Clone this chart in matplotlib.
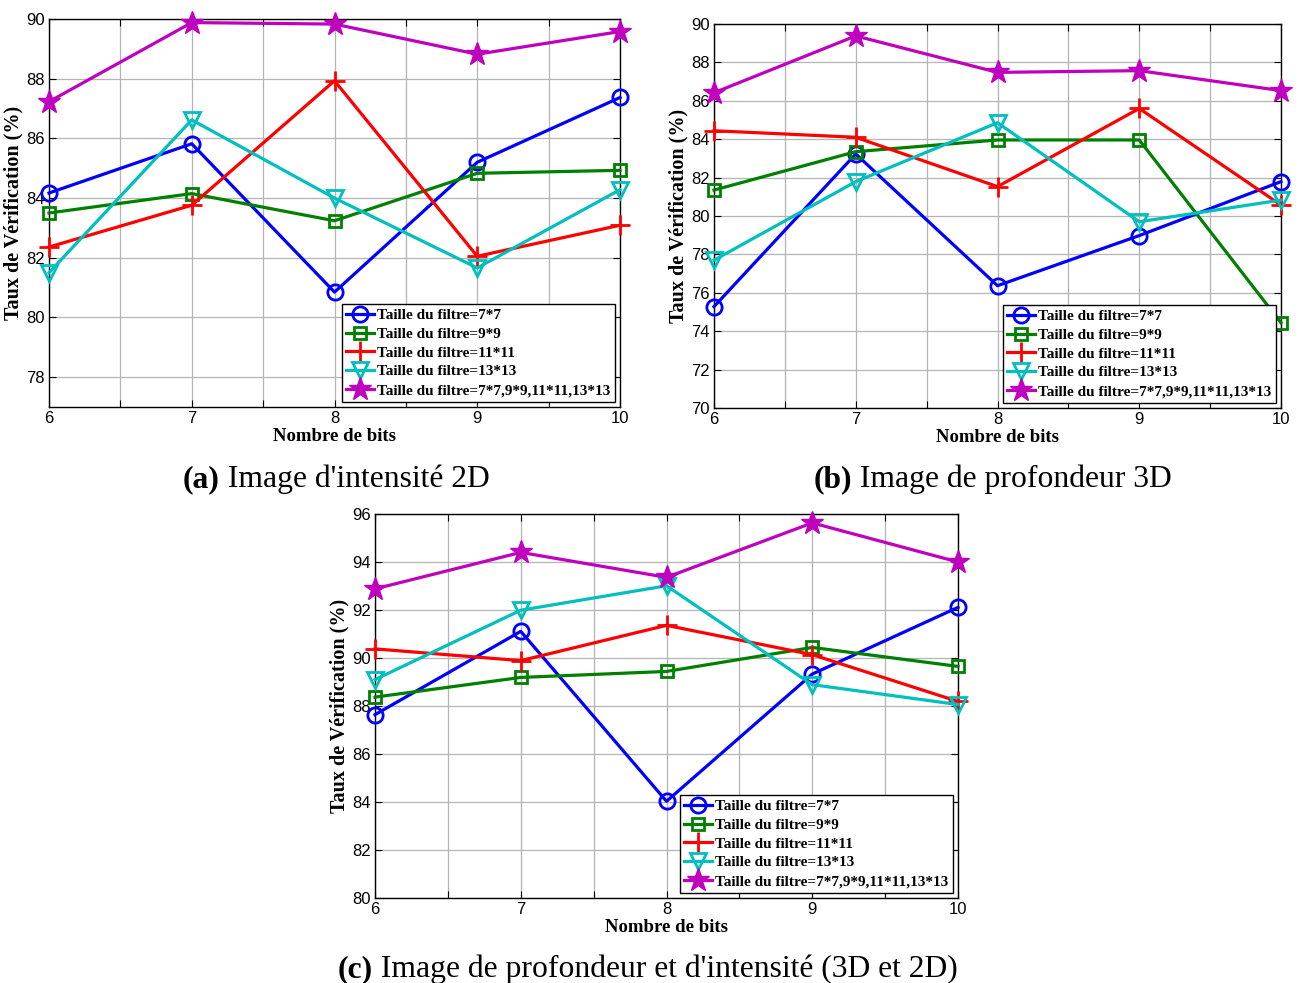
import matplotlib
matplotlib.use("Agg")
import matplotlib.pyplot as plt
from matplotlib.ticker import MultipleLocator
from matplotlib.text import Annotation

# nombre de bits (axe x)
bits = [6, 7, 8, 9, 10]

legend_labels = ["Taille du filtre=7*7", "Taille du filtre=9*9", "Taille du filtre=11*11",
                 "Taille du filtre=13*13", "Taille du filtre=7*7,9*9,11*11,13*13"]

# (a) image d'intensite 2D
a_7x7 = [84.17, 85.82, 80.85, 85.2, 87.37]
a_9x9 = [83.5, 84.15, 83.24, 84.83, 84.93]
a_11x11 = [82.36, 83.76, 87.93, 82.05, 83.09]
a_13x13 = [81.5, 86.62, 84.0, 81.66, 84.28]
a_all = [87.23, 89.88, 89.83, 88.82, 89.58]

# (b) image de profondeur 3D
b_7x7 = [75.28, 83.23, 76.37, 78.98, 81.79]
b_9x9 = [81.35, 83.35, 83.96, 83.96, 74.44]
b_11x11 = [84.44, 84.1, 81.53, 85.6, 80.57]
b_13x13 = [77.7, 81.79, 84.86, 79.7, 80.83]
b_all = [86.42, 89.38, 87.48, 87.57, 86.53]

# (c) profondeur et intensite
c_7x7 = [87.64, 91.11, 84.03, 89.33, 92.11]
c_9x9 = [88.37, 89.19, 89.44, 90.44, 89.65]
c_11x11 = [90.38, 89.89, 91.36, 90.14, 88.19]
c_13x13 = [89.1, 91.99, 93.01, 88.89, 88.06]
c_all = [92.88, 94.4, 93.36, 95.63, 94.0]

SERIF = ["Liberation Serif", "DejaVu Serif"]
TICKFONT = ["Liberation Sans Narrow", "Liberation Sans", "DejaVu Sans"]

styles = [
    dict(color="#0000ff", marker="o", markersize=11, markerfacecolor="none", markeredgewidth=2),
    dict(color="#008000", marker="s", markersize=8, markerfacecolor="none", markeredgewidth=2),
    dict(color="#ff0000", marker="+", markersize=14, markeredgewidth=2),
    dict(color="#00bfbf", marker="v", markersize=12, markerfacecolor="none", markeredgewidth=2),
    dict(color="#bf00bf", marker="*", markersize=17, markeredgewidth=1),
]

W, H = 1300, 983
fig = plt.figure(figsize=(13, 9.83), dpi=100)


def box(l, t, r, b):
    return [l / W, 1 - b / H, (r - l) / W, (b - t) / H]


def draw(rect, series, ylim, ystep):
    ax = fig.add_axes(rect)
    for ys, st, lab in zip(series, styles, legend_labels):
        ax.plot(bits, ys, linewidth=2.3, label=lab, clip_on=False, zorder=3, **st)
    ax.set_xlim(6, 10)
    ax.set_ylim(*ylim)
    ax.xaxis.set_major_locator(MultipleLocator(1))
    ax.xaxis.set_minor_locator(MultipleLocator(0.5))
    ax.yaxis.set_major_locator(MultipleLocator(ystep))
    ax.grid(True, which="both", axis="x", color="#b4b4b4", linewidth=0.9)
    ax.grid(True, which="major", axis="y", color="#b4b4b4", linewidth=0.9)
    ax.set_axisbelow(True)
    ax.tick_params(which="both", direction="in", top=True, right=True, length=5, width=0.8, pad=3)
    for lab in ax.get_xticklabels() + ax.get_yticklabels():
        lab.set_family(TICKFONT)
        lab.set_fontsize(12)
    for sp in ax.spines.values():
        sp.set_linewidth(1.0)
    ax.set_xlabel("Nombre de bits", family=SERIF, fontweight="bold", fontsize=13.5, labelpad=1)
    ax.set_ylabel("Taux de Vérification (%)", family=SERIF, fontweight="bold", fontsize=14.5, labelpad=2)
    leg = ax.legend(loc="lower right", bbox_to_anchor=(1, 0), borderaxespad=0.35,
                    prop=dict(family=SERIF, weight="bold", size=11),
                    handlelength=1.8, handletextpad=0.2, labelspacing=0.33,
                    borderpad=0.3, fancybox=False, framealpha=1)
    leg.get_frame().set_edgecolor("black")
    leg.get_frame().set_linewidth(1.0)
    leg.set_zorder(5)
    return ax


draw(box(49, 19, 620, 407), [a_7x7, a_9x9, a_11x11, a_13x13, a_all], (77, 90), 2)
draw(box(714, 24, 1281, 408), [b_7x7, b_9x9, b_11x11, b_13x13, b_all], (70, 90), 2)
draw(box(375, 514, 958, 898), [c_7x7, c_9x9, c_11x11, c_13x13, c_all], (80, 96), 2)

# legendes des sous-figures : partie (x) en gras, suite en normal
captions = [(183, 487, "(a)", " Image d'intensité 2D"),
            (814, 487, "(b)", " Image de profondeur 3D"),
            (338, 977, "(c)", " Image de profondeur et d'intensité (3D et 2D)")]
for x, y, tag, rest in captions:
    t = fig.text(x / W, 1 - y / H, tag, family=SERIF, fontweight="bold", fontsize=22.8, va="baseline")
    fig.add_artist(Annotation(rest, xy=(1, 0), xycoords=t, family=SERIF, fontsize=22.8,
                              va="bottom", ha="left", annotation_clip=False))

fig.savefig("out.png", dpi=100)
